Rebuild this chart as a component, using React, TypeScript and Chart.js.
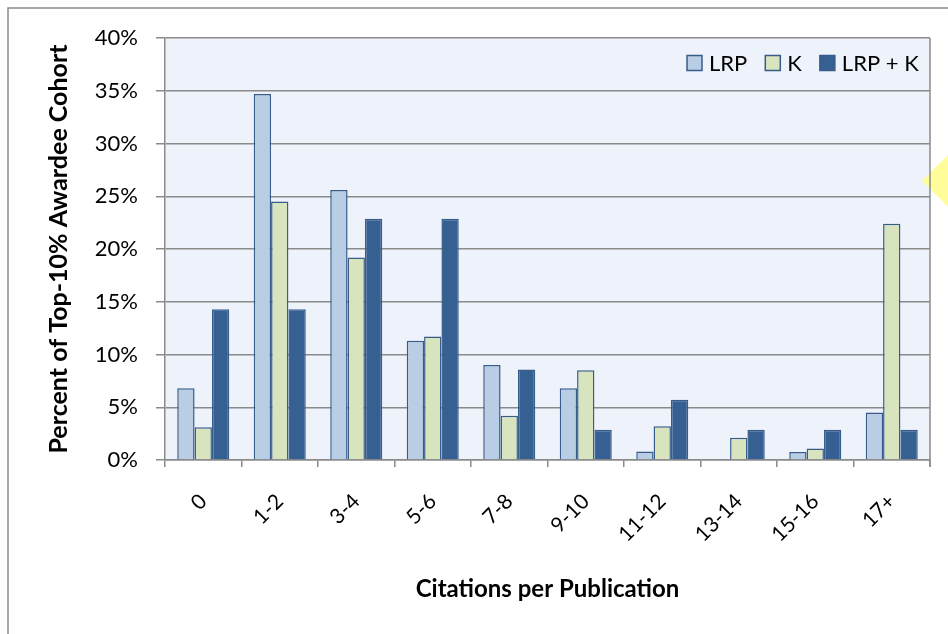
import React, { useEffect, useRef } from "react";
import { Chart, registerables } from "chart.js";

Chart.register(...registerables);

const categories = ["0", "1-2", "3-4", "5-6", "7-8", "9-10", "11-12", "13-14", "15-16", "17+"];
const lrpValues = [6.8, 34.7, 25.6, 11.3, 9.0, 6.8, 0.8, 0, 0.75, 4.5];
const kValues = [3.1, 24.5, 19.2, 11.7, 4.2, 8.5, 3.2, 2.1, 1.1, 22.4];
const lrpKValues = [14.29, 14.29, 22.86, 22.86, 8.57, 2.86, 5.71, 2.86, 2.86, 2.86];
const seriesLabels = ["LRP", "K", "LRP + K"];
const yAxisTitle = "Percent of Top-10% Awardee Cohort";
const xAxisTitle = "Citations per Publication";

const FONT = "Lato, 'Open Sans', 'DejaVu Sans', sans-serif";
const GRID = "#8a8a8a";
const BORDER = "#385D8A";
const FILLS = ["#B9CDE5", "#D7E4BD", "#376092"];

const decorPlugin = {
  id: "decor",
  beforeDraw(chart: any) {
    const { ctx, chartArea, width, height } = chart;
    ctx.save();
    ctx.fillStyle = "#ffffff";
    ctx.fillRect(0, 0, width, height);
    // outer frame
    ctx.strokeStyle = GRID;
    ctx.lineWidth = 1.5;
    ctx.beginPath();
    ctx.moveTo(8, height);
    ctx.lineTo(8, 8);
    ctx.lineTo(width, 8);
    ctx.stroke();
    // plot background
    ctx.fillStyle = "#EEF2FA";
    ctx.fillRect(chartArea.left, chartArea.top, chartArea.right - chartArea.left, chartArea.bottom - chartArea.top);
    // yellow marker on the right
    ctx.fillStyle = "#FFFC9A";
    ctx.beginPath();
    ctx.moveTo(922, 181);
    ctx.lineTo(952, 151);
    ctx.lineTo(952, 211);
    ctx.closePath();
    ctx.fill();
    ctx.restore();
  },
  afterDraw(chart: any) {
    const { ctx, chartArea } = chart;
    ctx.save();
    // right border of plot area
    ctx.strokeStyle = GRID;
    ctx.lineWidth = 1.5;
    ctx.beginPath();
    ctx.moveTo(chartArea.right, chartArea.top);
    ctx.lineTo(chartArea.right, chartArea.bottom + 7);
    ctx.stroke();
    // legend
    ctx.font = `22px ${FONT}`;
    ctx.textBaseline = "middle";
    ctx.textAlign = "left";
    let x = chartArea.right - 243;
    const cy = 63;
    chart.data.datasets.forEach((ds: any) => {
      ctx.fillStyle = ds.backgroundColor;
      ctx.fillRect(x, cy - 7.5, 15, 15);
      ctx.strokeStyle = BORDER;
      ctx.lineWidth = 1.5;
      ctx.strokeRect(x, cy - 7.5, 15, 15);
      ctx.fillStyle = "#000";
      ctx.fillText(ds.label, x + 22, cy + 1);
      x += 22 + ctx.measureText(ds.label).width + 18;
    });
    ctx.restore();
  },
};

export default function App() {
  const ref = useRef<HTMLCanvasElement>(null);
  useEffect(() => {
    if (!ref.current) return;
    const chart = new Chart(ref.current, {
      type: "bar",
      data: {
        labels: categories,
        datasets: [lrpValues, kValues, lrpKValues].map((d, i) => ({
          label: seriesLabels[i],
          data: d,
          backgroundColor: FILLS[i],
          borderColor: BORDER,
          borderWidth: 1.5,
          categoryPercentage: 0.68,
          barPercentage: 1.0,
        })),
      },
      options: {
        responsive: false,
        animation: false,
        layout: { padding: { top: 38, right: 18, left: 0, bottom: 0 } },
        plugins: {
          legend: { display: false },
          tooltip: { enabled: false },
        },
        scales: {
          x: {
            offset: true,
            grid: {
              display: true,
              drawOnChartArea: false,
              drawTicks: true,
              tickLength: 7,
              color: GRID,
              lineWidth: 1.5,
              offset: true,
            },
            border: { color: GRID, width: 1.5 },
            ticks: {
              minRotation: 45,
              maxRotation: 45,
              color: "#000",
              padding: 22,
              font: { family: FONT, size: 21 },
            },
            title: {
              display: true,
              text: xAxisTitle,
              color: "#000",
              font: { family: FONT, size: 24, weight: "bold" },
              padding: { top: 0, bottom: 30 },
            },
            afterFit: (s: any) => {
              s.height = 174;
            },
          },
          y: {
            min: 0,
            max: 40,
            grid: { color: GRID, lineWidth: 1.5, tickLength: 9 },
            border: { color: GRID, width: 1.5 },
            ticks: {
              stepSize: 5,
              color: "#000",
              padding: 18,
              font: { family: FONT, size: 22 },
              callback: (v: any) => v + "%",
            },
            title: {
              display: true,
              text: yAxisTitle,
              color: "#000",
              font: { family: FONT, size: 25, weight: "bold" },
              padding: { top: 44, bottom: 0 },
            },
            afterFit: (s: any) => {
              s.width = 165;
            },
          },
        },
      },
      plugins: [decorPlugin],
    } as any);
    return () => chart.destroy();
  }, []);
  return (
    <div style={{ position: "fixed", left: 0, top: 0, width: 948, height: 634 }}>
      <canvas ref={ref} width={948} height={634} style={{ width: 948, height: 634, display: "block" }} />
    </div>
  );
}
